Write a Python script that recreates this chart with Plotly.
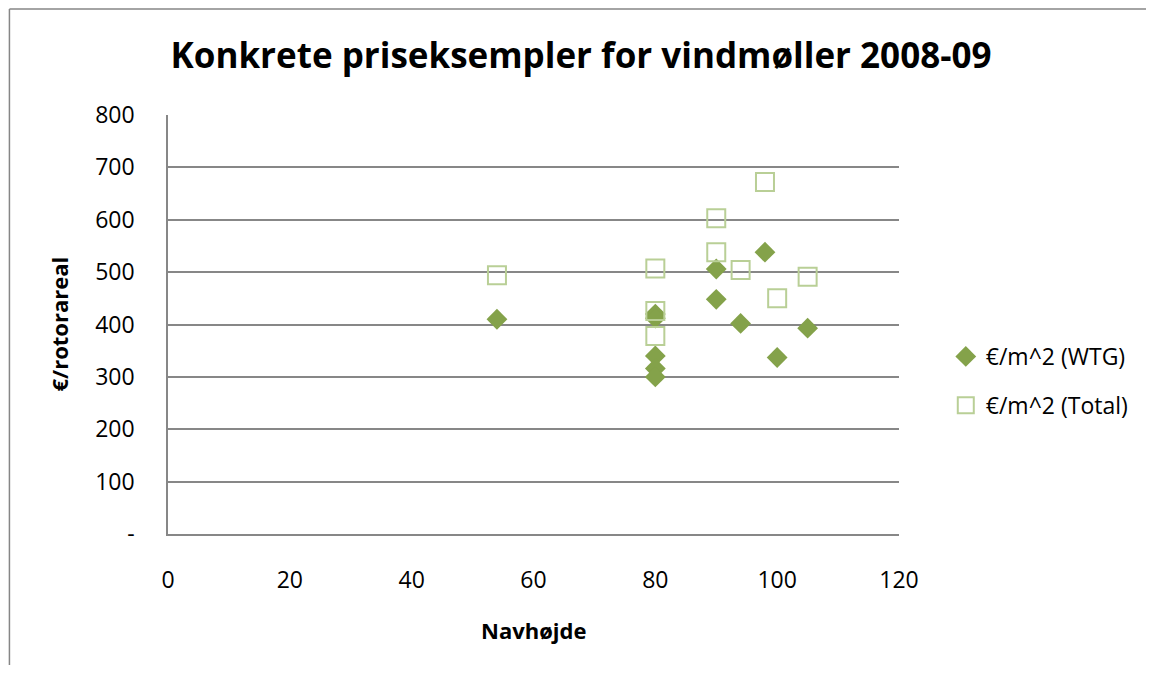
import plotly.graph_objects as go

# Data
hub_wtg = [54, 80, 80, 80, 80, 80, 90, 90, 94, 98, 100, 105]
eur_wtg = [410, 420, 412, 340, 316, 300, 506, 448, 402, 538, 337, 393]

hub_total = [54, 80, 80, 80, 90, 90, 94, 98, 100, 105]
eur_total = [494, 507, 426, 378, 603, 538, 504, 672, 450, 491]

x_ticks = [0, 20, 40, 60, 80, 100, 120]
y_ticks = [0, 100, 200, 300, 400, 500, 600, 700, 800]
y_ticklabels = ["-", "100", "200", "300", "400", "500", "600", "700", "800"]

FONT = "Open Sans"
GRID = "#878787"

W, H = 1138, 657
L, R, T, B = 160, 245, 107, 131
PW, PH = W - L - R, H - T - B

fig = go.Figure()
fig.add_trace(go.Scatter(
    x=hub_wtg, y=eur_wtg, mode="markers", name="€/m^2 (WTG)",
    legendgroup="a",
    marker=dict(symbol="diamond", size=16, color="#84A24A", line=dict(width=0)),
))
fig.add_trace(go.Scatter(
    x=hub_total, y=eur_total, mode="markers", name="€/m^2 (Total)",
    legendgroup="b",
    marker=dict(symbol="square-open", size=18, color="#B9CF96", line=dict(width=2, color="#B9CF96")),
))

bx0 = (1 - L) / PW
bx1 = (W + 40 - L) / PW
by0 = -(B + 40) / PH
by1 = (PH + T - 1) / PH

fig.update_layout(
    width=W, height=H,
    margin=dict(l=L, r=R, t=T, b=B),
    paper_bgcolor="white", plot_bgcolor="white",
    font=dict(family=FONT, size=23, color="#000000"),
    title=dict(text="<b>Konkrete priseksempler for vindmøller 2008-09</b>",
               font=dict(family=FONT, size=35, color="#000000"),
               x=0.5035, xanchor="center", y=0.927, yanchor="middle"),
    showlegend=True,
    legend=dict(x=1.064, y=0.475, xanchor="left", yanchor="top",
                font=dict(family=FONT, size=23), tracegroupgap=16,
                bgcolor="rgba(0,0,0,0)", itemwidth=30),
    xaxis=dict(range=[0, 120], tickvals=x_ticks, showgrid=False, zeroline=False,
               showline=True, linecolor=GRID, linewidth=1.5,
               ticks="outside", ticklen=25, tickcolor="rgba(0,0,0,0)",
               tickfont=dict(size=23)),
    yaxis=dict(range=[0, 800], tickvals=y_ticks, ticktext=y_ticklabels,
               showgrid=True, gridcolor=GRID, gridwidth=1.5, zeroline=False,
               showline=True, linecolor=GRID, linewidth=1.5,
               ticks="outside", ticklen=27, tickcolor="rgba(0,0,0,0)",
               tickfont=dict(size=23)),
    annotations=[
        dict(text="<b>Navhøjde</b>", xref="paper", yref="paper", x=0.5, y=0,
             yshift=-96, xanchor="center", yanchor="middle", showarrow=False,
             font=dict(family=FONT, size=22)),
        dict(text="<b>€/rotorareal</b>", xref="paper", yref="paper", x=0, y=0.5,
             xshift=-110, xanchor="center", yanchor="middle", showarrow=False,
             textangle=-90, font=dict(family=FONT, size=22)),
    ],
    shapes=[
        dict(type="line", xref="paper", yref="paper", x0=bx0, x1=bx0, y0=by0, y1=by1,
             line=dict(color="#868686", width=1.5), layer="below"),
        dict(type="line", xref="paper", yref="paper", x0=bx0, x1=bx1, y0=by1, y1=by1,
             line=dict(color="#868686", width=1.5), layer="below"),
    ],
)

fig.write_html("out.html")
